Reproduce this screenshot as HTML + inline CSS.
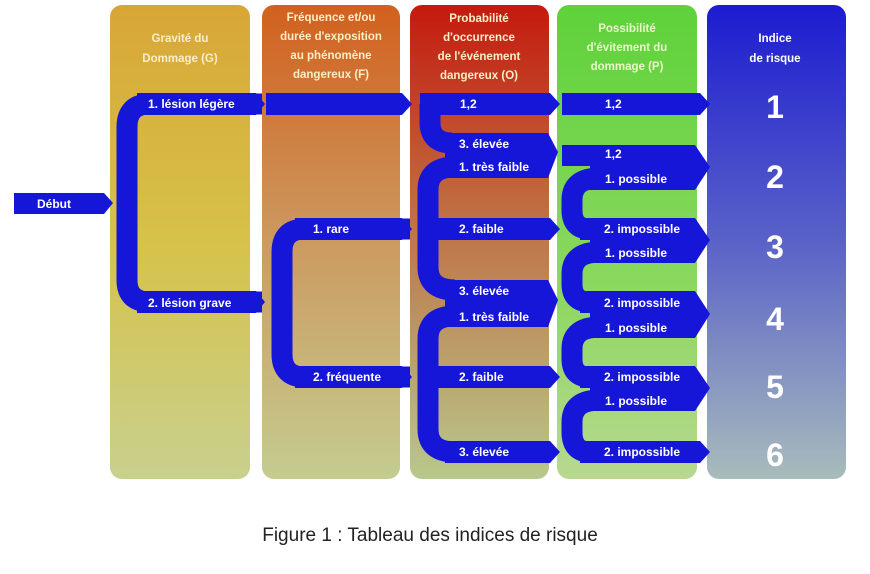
<!DOCTYPE html>
<html><head><meta charset="utf-8"><style>
body{margin:0;background:#fff;width:870px;height:569px;overflow:hidden}
svg text{font-family:"Liberation Sans",sans-serif;font-weight:bold}
</style></head><body>
<svg width="870" height="569" viewBox="0 0 870 569">
<defs>
<linearGradient id="g1" x1="0" y1="0" x2="0" y2="1"><stop offset="0" stop-color="#d8a636"/><stop offset="0.5" stop-color="#d6c24a"/><stop offset="1" stop-color="#c8d08e"/></linearGradient>
<linearGradient id="g2" x1="0" y1="0" x2="0" y2="1"><stop offset="0" stop-color="#d2601e"/><stop offset="0.5" stop-color="#cc9a60"/><stop offset="1" stop-color="#c4cc90"/></linearGradient>
<linearGradient id="g3" x1="0" y1="0" x2="0" y2="1"><stop offset="0" stop-color="#c41a0e"/><stop offset="0.4" stop-color="#c0683e"/><stop offset="1" stop-color="#b8c88c"/></linearGradient>
<linearGradient id="g4" x1="0" y1="0" x2="0" y2="1"><stop offset="0" stop-color="#5ed23a"/><stop offset="0.6" stop-color="#8cd860"/><stop offset="1" stop-color="#b8d890"/></linearGradient>
<linearGradient id="g5" x1="0" y1="0" x2="0" y2="1"><stop offset="0" stop-color="#1c1cd0"/><stop offset="0.5" stop-color="#5a62c8"/><stop offset="1" stop-color="#a8bcbc"/></linearGradient>
</defs>
<rect x="110" y="5" width="140" height="474" rx="12" fill="url(#g1)"/>
<rect x="262" y="5" width="138" height="474" rx="12" fill="url(#g2)"/>
<rect x="410" y="5" width="139" height="474" rx="12" fill="url(#g3)"/>
<rect x="557" y="5" width="140" height="474" rx="12" fill="url(#g4)"/>
<rect x="707" y="5" width="139" height="474" rx="12" fill="url(#g5)"/>
<g fill="#fbeec8" font-size="11.5" text-anchor="middle">
<text x="180" y="42">Gravité du</text><text x="180" y="62">Dommage (G)</text>
<text x="331" y="21">Fréquence et/ou</text><text x="331" y="40">durée d'exposition</text><text x="331" y="59">au phénomène</text><text x="331" y="78">dangereux (F)</text>
<text x="479" y="22">Probabilité</text><text x="479" y="41">d'occurrence</text><text x="479" y="60">de l'événement</text><text x="479" y="79">dangereux (O)</text>
<text x="627" y="32" fill="#e8f8c8">Possibilité</text><text x="627" y="51" fill="#e8f8c8">d'évitement du</text><text x="627" y="70" fill="#e8f8c8">dommage (P)</text>
<text x="775" y="42" fill="#fff">Indice</text><text x="775" y="62" fill="#fff">de risque</text>
</g>
<g fill="none" stroke="#1616d8" stroke-width="21">
<path d="M262 104H150Q127 104 127 127V280Q127 302 150 302H262"/>
<path d="M410 229H305Q282 229 282 252V354Q282 377 305 377H410"/>
<path d="M430 104V122Q430 143 452 143"/>
<path d="M455 167Q428 167 428 190V267Q428 290 455 290"/>
<path d="M455 316Q428 316 428 339V429Q428 452 455 452"/>
<path d="M600 178Q572 178 572 200V210Q572 229 590 229"/>
<path d="M600 252Q572 252 572 274V284Q572 302 590 302"/>
<path d="M600 327Q572 327 572 349V359Q572 377 590 377"/>
<path d="M600 400Q572 400 572 422V432Q572 452 590 452"/>
</g>
<g fill="#1616d8">
<polygon points="14,193 104,193 113,203 104,214 14,214"/>
<polygon points="137,93 256,93 265,104 256,115 137,115"/>
<polygon points="266,93 402,93 412,104 402,115 266,115"/>
<polygon points="137,291 256,291 265,302 256,313 137,313"/>
<polygon points="295,218 402,218 412,229 402,240 295,240"/>
<polygon points="295,366 402,366 412,377 402,388 295,388"/>
<polygon points="420,93 550,93 560,104 550,115 420,115"/>
<polygon points="445,133 548,133 558,152 548,178 445,178"/>
<polygon points="430,218 550,218 560,229 550,240 430,240"/>
<polygon points="445,280 548,280 558,300 548,327 445,327"/>
<polygon points="430,366 550,366 560,377 550,388 430,388"/>
<polygon points="445,441 550,441 560,452 550,463 445,463"/>
<polygon points="562,93 700,93 710,104 700,115 562,115"/>
<polygon points="562,145 695,145 710,167 695,190 590,190 590,166 562,166"/>
<polygon points="580,218 695,218 710,240 695,263 590,263 590,240 580,240"/>
<polygon points="580,291 695,291 710,314 695,338 590,338 590,313 580,313"/>
<polygon points="580,366 695,366 710,388 695,411 590,411 590,388 580,388"/>
<polygon points="580,441 700,441 710,452 700,463 580,463"/>
</g>
<g fill="#fff" font-size="12">
<text x="37" y="208">Début</text>
<text x="148" y="108">1. lésion légère</text>
<text x="148" y="307">2. lésion grave</text>
<text x="313" y="233">1. rare</text>
<text x="313" y="381">2. fréquente</text>
<text x="460" y="108">1,2</text>
<text x="459" y="148">3. élevée</text>
<text x="459" y="171">1. très faible</text>
<text x="459" y="233">2. faible</text>
<text x="459" y="295">3. élevée</text>
<text x="459" y="321">1. très faible</text>
<text x="459" y="381">2. faible</text>
<text x="459" y="456">3. élevée</text>
<text x="605" y="108">1,2</text>
<text x="605" y="158">1,2</text>
<text x="605" y="183">1. possible</text>
<text x="604" y="233">2. impossible</text>
<text x="605" y="257">1. possible</text>
<text x="604" y="307">2. impossible</text>
<text x="605" y="332">1. possible</text>
<text x="604" y="381">2. impossible</text>
<text x="605" y="405">1. possible</text>
<text x="604" y="456">2. impossible</text>
</g>
<g fill="#fff" font-size="32" text-anchor="middle">
<text x="775" y="118">1</text><text x="775" y="188">2</text><text x="775" y="258">3</text>
<text x="775" y="330">4</text><text x="775" y="398">5</text><text x="775" y="466">6</text>
</g>
<text x="430" y="541" text-anchor="middle" font-size="19" fill="#222" style="font-weight:normal">Figure 1 : Tableau des indices de risque</text>
</svg>
</body></html>
